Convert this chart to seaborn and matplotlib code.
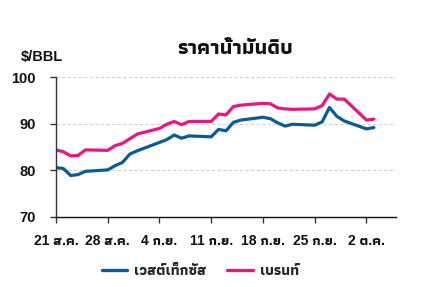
import matplotlib
matplotlib.use("Agg")
import matplotlib.pyplot as plt
from matplotlib import font_manager
from matplotlib.ft2font import FT2Font
from matplotlib.lines import Line2D
import pandas as pd
import seaborn as sns

# ---- data ----
dates = ["2023-08-21", "2023-08-22", "2023-08-23", "2023-08-24", "2023-08-25",
         "2023-08-28", "2023-08-29", "2023-08-30", "2023-08-31", "2023-09-01",
         "2023-09-04", "2023-09-05", "2023-09-06", "2023-09-07", "2023-09-08",
         "2023-09-11", "2023-09-12", "2023-09-13", "2023-09-14", "2023-09-15",
         "2023-09-18", "2023-09-19", "2023-09-20", "2023-09-21", "2023-09-22",
         "2023-09-25", "2023-09-26", "2023-09-27", "2023-09-28", "2023-09-29",
         "2023-10-02", "2023-10-03"]
wti = [80.6, 80.4, 78.9, 79.1, 79.8,
       80.1, 81.0, 81.7, 83.5, 84.2,
       None, 86.6, 87.6, 86.9, 87.4,
       87.2, 88.8, 88.5, 90.3, 90.8,
       91.4, 91.1, 90.2, 89.5, 89.9,
       89.7, 90.4, 93.5, 91.6, 90.6,
       88.9, 89.2]
brent = [84.4, 84.0, 83.1, 83.2, 84.4,
         84.3, 85.3, 85.8, 86.8, 87.8,
         89.0, 89.9, 90.5, 89.8, 90.5,
         90.5, 92.1, 91.9, 93.7, 94.0,
         94.4, 94.3, 93.4, 93.2, 93.1,
         93.2, 93.9, 96.4, 95.3, 95.3,
         90.8, 91.0]
series_names = ["เวสต์เท็กซัส", "เบรนท์"]
tick_dates = ["2023-08-21", "2023-08-28", "2023-09-04", "2023-09-11",
              "2023-09-18", "2023-09-25", "2023-10-02"]
tick_labels = ["21 ส.ค.", "28 ส.ค.", "4 ก.ย.", "11 ก.ย.", "18 ก.ย.", "25 ก.ย.", "2 ต.ค."]
y_ticks = [70, 80, 90, 100]
title = "ราคาน้ำมันดิบ"
y_unit = "$/BBL"

# ---- find a font family with Thai glyphs, preferring one with a bold face ----
thai_fams = {}
seen = set()
for f in font_manager.fontManager.ttflist:
    if f.fname in seen:
        continue
    seen.add(f.fname)
    try:
        cm = FT2Font(f.fname).get_charmap()
    except Exception:
        continue
    if 0x0E23 in cm and 0x0E32 in cm and 0x0E49 in cm:
        w = f.weight if isinstance(f.weight, int) else (700 if "bold" in str(f.weight).lower() else 400)
        thai_fams[f.name] = max(thai_fams.get(f.name, 0), w)
thai_font = None
if thai_fams:
    thai_font = sorted(thai_fams.items(), key=lambda kv: (-(kv[1] >= 600), kv[0]))[0][0]
families = ["Liberation Sans"] + ([thai_font] if thai_font else []) + ["DejaVu Sans"]

sns.set_theme(style="white")
plt.rcParams["font.family"] = families

df = pd.DataFrame({"date": pd.to_datetime(dates), series_names[0]: wti, series_names[1]: brent})
long = df.melt(id_vars="date", var_name="series", value_name="price").dropna()

fig = plt.figure(figsize=(4.3, 2.87), dpi=100)
ax = fig.add_axes([0.130, 0.244, 0.791, 0.487])

palette = {series_names[0]: "#0b5a98", series_names[1]: "#e6177f"}
sns.lineplot(data=long, x="date", y="price", hue="series", palette=palette,
             linewidth=2.3, ax=ax, legend=False)

ax.set_xlim(pd.Timestamp("2023-08-21"), pd.Timestamp("2023-10-06"))
ax.set_ylim(70, 100)
ax.set_yticks(y_ticks)
ax.set_xticks(pd.to_datetime(tick_dates))
ax.set_xticklabels(tick_labels, fontweight="bold", fontsize=10, color="#111111")
ax.set_yticklabels([str(v) for v in y_ticks], fontweight="bold", fontsize=10.5, color="#111111")
ax.set_xlabel("")
ax.set_ylabel("")

for v in y_ticks[1:]:
    ax.axhline(v, color="#d0d0d0", linestyle=(0, (3, 2)), linewidth=0.8, zorder=0)

for s in ["top", "right"]:
    ax.spines[s].set_visible(False)
ax.spines["left"].set_color("#333333")
ax.spines["bottom"].set_color("#111111")
ax.spines["left"].set_linewidth(1.0)
ax.spines["bottom"].set_linewidth(1.0)
ax.tick_params(axis="both", which="both", direction="out", length=4.5, width=1,
               color="#333333", bottom=True, left=True)
ax.tick_params(axis="x", pad=8)
ax.tick_params(axis="y", pad=10)

fig.text(0.547, 0.83, title, ha="center", va="center", fontsize=15, fontweight="bold", color="#111111")
fig.text(0.098, 0.80, y_unit, ha="center", va="center", fontsize=10.5, fontweight="bold", color="#111111")

handles = [Line2D([0], [0], color=palette[n], linewidth=2.4) for n in series_names]
fig.legend(handles, series_names, loc="center", bbox_to_anchor=(0.466, 0.055),
           ncol=2, frameon=False, handlelength=1.75, handletextpad=0.5,
           columnspacing=1.4, prop={"weight": "bold", "size": 10.5})

fig.savefig("out.png", dpi=100)
